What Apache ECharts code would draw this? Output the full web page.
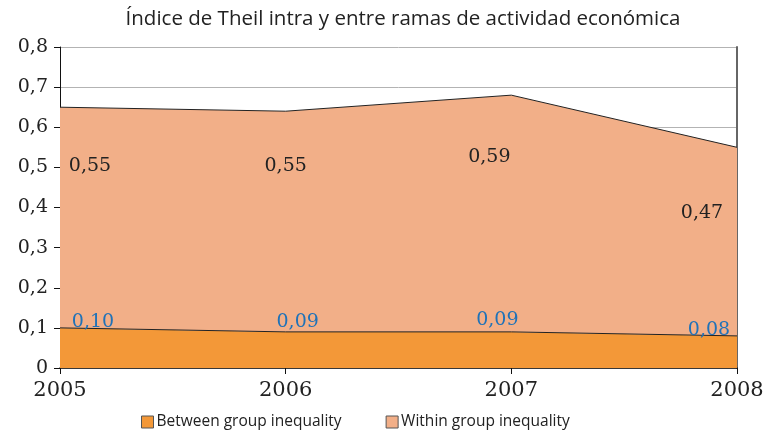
<!DOCTYPE html>
<html lang="es">
<head>
<meta charset="utf-8">
<title>Índice de Theil</title>
<style>
  html, body { margin: 0; padding: 0; background: #fff; }
  #main { width: 769px; height: 436px; }
</style>
</head>
<body>
<div id="main"></div>
<script src="https://cdn.jsdelivr.net/npm/echarts@6/dist/echarts.min.js"></script>
<script>
var years = ['2005', '2006', '2007', '2008'];
var between = [0.10, 0.09, 0.09, 0.08];
var within = [0.55, 0.55, 0.59, 0.47];
// label nudges
var withinOffsets = [[30, 73], [0, 69], [-22, 76], [-35, 80]];
var betweenOffsets = [[33, 9], [12, 5], [-14, 3], [-28, 9]];

var serif = '"DejaVu Serif", "Liberation Serif", serif';
var sans = '"Open Sans", "Noto Sans", sans-serif';

function comma(v) {
  return v === 0 ? '0' : String(+v.toFixed(2)).replace('.', ',');
}
function commaLabel(p) {
  return p.value.toFixed(2).replace('.', ',');
}

function points(vals, offs, col) {
  return vals.map(function (v, i) {
    return { value: v, label: { offset: offs[i], color: col } };
  });
}

var chart = echarts.init(document.getElementById('main'));
chart.setOption({
  animation: false,
  title: {
    text: 'Índice de Theil intra y entre ramas de actividad económica',
    left: 398, top: 4, textAlign: 'center',
    textStyle: { fontFamily: sans, fontSize: 20.5, fontWeight: 'normal', color: '#222' }
  },
  legend: {
    bottom: 1, left: 136, itemGap: 44, itemWidth: 12, itemHeight: 12,
    textStyle: { fontFamily: sans, fontSize: 15.5, color: '#222', padding: [0, 0, 0, -2] },
    data: [
      { name: 'Between group inequality', icon: 'rect', itemStyle: { borderColor: '#555', borderWidth: 1 } },
      { name: 'Within group inequality', icon: 'rect', itemStyle: { borderColor: '#555', borderWidth: 1 } }
    ]
  },
  grid: { left: 60, right: 32, top: 47, bottom: 68 },
  xAxis: {
    type: 'category', data: years, boundaryGap: false,
    axisLine: { lineStyle: { color: '#111', width: 1.5 } },
    axisTick: { show: true, length: 6, lineStyle: { color: '#111' } },
    axisLabel: { fontFamily: serif, fontSize: 21, color: '#222', margin: 12 }
  },
  yAxis: [{
    type: 'value', min: 0, max: 0.8, interval: 0.1,
    axisLine: { show: true, lineStyle: { color: '#111' } },
    axisTick: { show: true, length: 6, lineStyle: { color: '#111' } },
    splitLine: { lineStyle: { color: '#b3b3b3' } },
    axisLabel: { fontFamily: serif, fontSize: 19, color: '#222', margin: 12, formatter: comma }
  }, {
    type: 'value', min: 0, max: 0.8, interval: 0.1, position: 'right',
    axisLine: { show: true, lineStyle: { color: '#666', width: 2 } },
    axisTick: { show: false }, axisLabel: { show: false }, splitLine: { show: false }
  }],
  series: [{
    name: 'Between group inequality', type: 'line', stack: 'theil',
    data: points(between, betweenOffsets, '#1f72b8'),
    symbol: 'circle', symbolSize: 0, showSymbol: true, color: '#f39838',
    lineStyle: { color: '#222', width: 1 },
    areaStyle: { color: '#f39838', opacity: 1 },
    label: { show: true, position: 'top', fontFamily: serif, fontSize: 19, formatter: commaLabel }
  }, {
    name: 'Within group inequality', type: 'line', stack: 'theil',
    data: points(within, withinOffsets, '#222'),
    symbol: 'circle', symbolSize: 0, showSymbol: true, color: '#f2af88',
    lineStyle: { color: '#222', width: 1 },
    areaStyle: { color: '#f2af88', opacity: 1 },
    label: { show: true, position: 'top', fontFamily: serif, fontSize: 19, formatter: commaLabel }
  }]
});
</script>
</body>
</html>
